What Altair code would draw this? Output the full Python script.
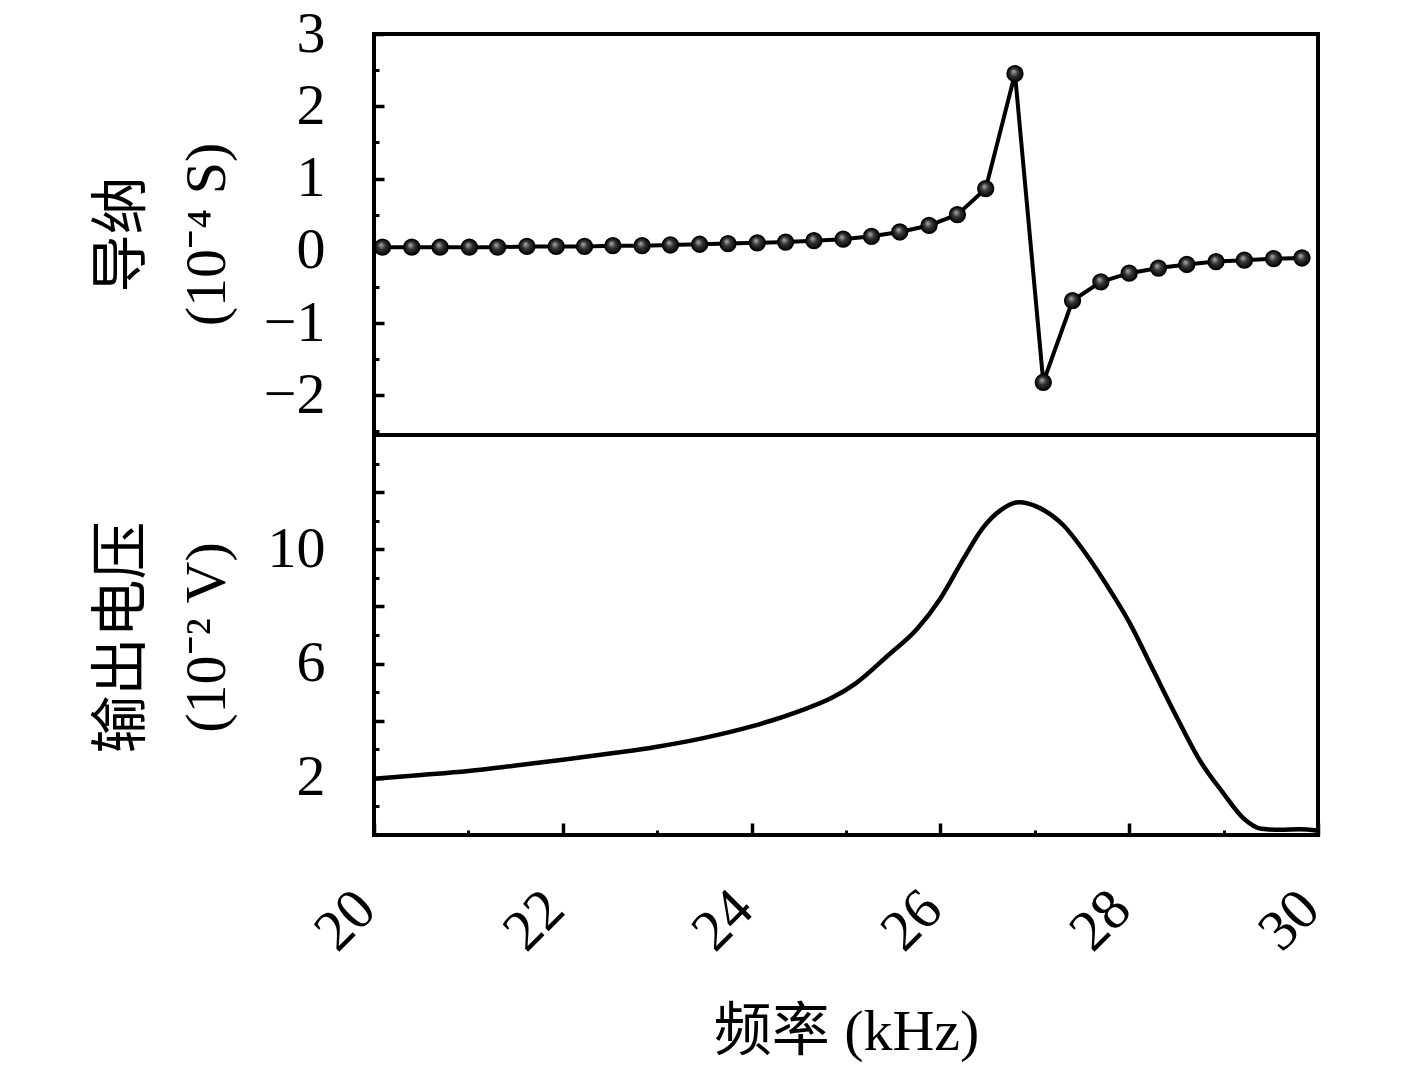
import altair as alt
import pandas as pd

# ---- data ----
freq_pts = [20.09, 20.40, 20.70, 21.01, 21.31, 21.62, 21.93, 22.23, 22.53, 22.84,
            23.14, 23.45, 23.75, 24.06, 24.36, 24.66, 24.97, 25.27, 25.57, 25.88,
            26.18, 26.48, 26.79, 27.09, 27.40, 27.70, 28.00, 28.31, 28.61, 28.92,
            29.22, 29.53, 29.83]
admittance = [0.05, 0.05, 0.05, 0.05, 0.05, 0.06, 0.06, 0.06, 0.07, 0.07,
              0.08, 0.09, 0.10, 0.11, 0.12, 0.14, 0.16, 0.20, 0.26, 0.35,
              0.50, 0.86, 2.45, -1.82, -0.69, -0.43, -0.31, -0.24, -0.19, -0.15,
              -0.13, -0.11, -0.10]

freq_v = [20.0, 20.5, 21.0, 21.5, 22.0, 22.5, 23.0, 23.5, 24.0, 24.5,
          24.85, 25.1, 25.45, 25.75, 26.0, 26.25, 26.45, 26.65, 26.83, 27.05,
          27.3, 27.55, 27.8, 28.0, 28.25, 28.5, 28.75, 29.0, 29.2, 29.4,
          29.6, 29.8, 30.0]
voltage = [1.97, 2.10, 2.24, 2.43, 2.63, 2.85, 3.09, 3.40, 3.80, 4.33,
           4.80, 5.30, 6.30, 7.20, 8.28, 9.70, 10.75, 11.40, 11.65, 11.45,
           10.85, 9.80, 8.55, 7.45, 5.80, 4.15, 2.60, 1.45, 0.62, 0.22,
           0.18, 0.20, 0.15]

x_major_ticks = [20, 22, 24, 26, 28, 30]
x_minor_ticks = [21, 23, 25, 27, 29]
y1_major_ticks = [-2, -1, 0, 1, 2, 3]
y1_minor_ticks = [-2.5, -1.5, -0.5, 0.5, 1.5, 2.5]
y2_major_ticks = [2, 4, 6, 8, 10, 12]
y2_minor_ticks = [1, 3, 5, 7, 9, 11, 13]

top_title = ["导纳", "(10⁻⁴ S)"]
bot_title = ["输出电压", "(10⁻² V)"]
x_title = "频率 (kHz)"

LF = "Liberation Serif"
TF = "Liberation Serif, Noto Sans CJK SC"
FS = 58

x_scale = alt.Scale(domain=[20, 30], nice=False, zero=False)
y1_scale = alt.Scale(domain=[-2.55, 3], nice=False, zero=False)
y2_scale = alt.Scale(domain=[0, 14], nice=False, zero=False)


def y_major(values, title, title_y, label_expr=None):
    kw = dict(values=values, orient="left", offset=-10, tickSize=10, tickWidth=3.5,
              tickColor="black", domain=False, grid=False,
              labelFont=LF, labelFontSize=FS, labelColor="black", labelPadding=49,
              labelAlign="right", labelBaseline="middle", labelOverlap=False,
              title=title, titleFont=TF, titleFontSize=FS, titleFontWeight="normal",
              titleColor="black", titleAngle=270, titleAlign="center",
              titleBaseline="middle", titleX=-262, titleY=title_y, titleLineHeight=85)
    if label_expr:
        kw["labelExpr"] = label_expr
    return alt.Axis(**kw)


def y_minor(values):
    return alt.Axis(values=values, orient="left", offset=-5, tickSize=5, tickWidth=3,
                    tickColor="black", domain=False, grid=False, labels=False, title=None)


x_major = alt.Axis(values=x_major_ticks, orient="bottom", offset=-12, tickSize=12,
                   tickWidth=3.5, tickColor="black", domain=False, grid=False,
                   labelFont=LF, labelFontSize=FS, labelColor="black", labelPadding=65,
                   labelAngle=315, labelAlign="right", labelBaseline="middle",
                   labelOffset=-8, labelFlush=False, labelOverlap=False,
                   title=x_title, titleFont=TF, titleFontSize=FS, titleFontWeight="normal",
                   titleColor="black", titleAlign="center", titleBaseline="middle",
                   titleX=472, titleY=209)
x_minor = alt.Axis(values=x_minor_ticks, orient="bottom", offset=-5, tickSize=5,
                   tickWidth=3, tickColor="black", domain=False, grid=False,
                   labels=False, title=None)

sphere = alt.RadialGradient(
    gradient="radial",
    stops=[alt.GradientStop(offset=0, color="#b0b0b0"),
           alt.GradientStop(offset=0.45, color="#333333"),
           alt.GradientStop(offset=1, color="#000000")],
    x1=0.4, y1=0.35, r1=0, x2=0.5, y2=0.5, r2=0.55)

top_df = pd.DataFrame({"f": freq_pts, "g": admittance})
top_line = alt.Chart(top_df).mark_line(color="black", strokeWidth=4).encode(
    x=alt.X("f:Q", scale=x_scale, axis=None),
    y=alt.Y("g:Q", scale=y1_scale, axis=y_major(y1_major_ticks, top_title, 200)),
)
top_pts = alt.Chart(top_df).mark_circle(size=250, fill=sphere, stroke="black",
                                        strokeWidth=1.5, opacity=1).encode(
    x=alt.X("f:Q", scale=x_scale, axis=None),
    y=alt.Y("g:Q", scale=y1_scale, axis=y_minor(y1_minor_ticks)),
)
top = alt.layer(top_line, top_pts).resolve_axis(y="independent").properties(
    width=944, height=401)

bot_df = pd.DataFrame({"f": freq_v, "v": voltage})
bot_line = alt.Chart(bot_df).mark_line(color="black", strokeWidth=4.5,
                                       interpolate="monotone").encode(
    x=alt.X("f:Q", scale=x_scale, axis=x_major),
    y=alt.Y("v:Q", scale=y2_scale,
            axis=y_major(y2_major_ticks, bot_title, 202,
                         "datum.value % 4 == 2 ? datum.label : ''")),
)
bot_ghost = alt.Chart(bot_df).mark_line(opacity=0).encode(
    x=alt.X("f:Q", scale=x_scale, axis=x_minor),
    y=alt.Y("v:Q", scale=y2_scale, axis=y_minor(y2_minor_ticks)),
)
bot = alt.layer(bot_line, bot_ghost).resolve_axis(x="independent", y="independent").properties(
    width=944, height=400)

chart = alt.vconcat(top, bot, spacing=0, bounds="flush").properties(
    padding={"left": 83, "top": -5, "right": 20, "bottom": 10},
    background="white",
).configure_view(stroke="black", strokeWidth=4)

chart.save("out.html", embed_options={"renderer": "svg", "actions": False})
